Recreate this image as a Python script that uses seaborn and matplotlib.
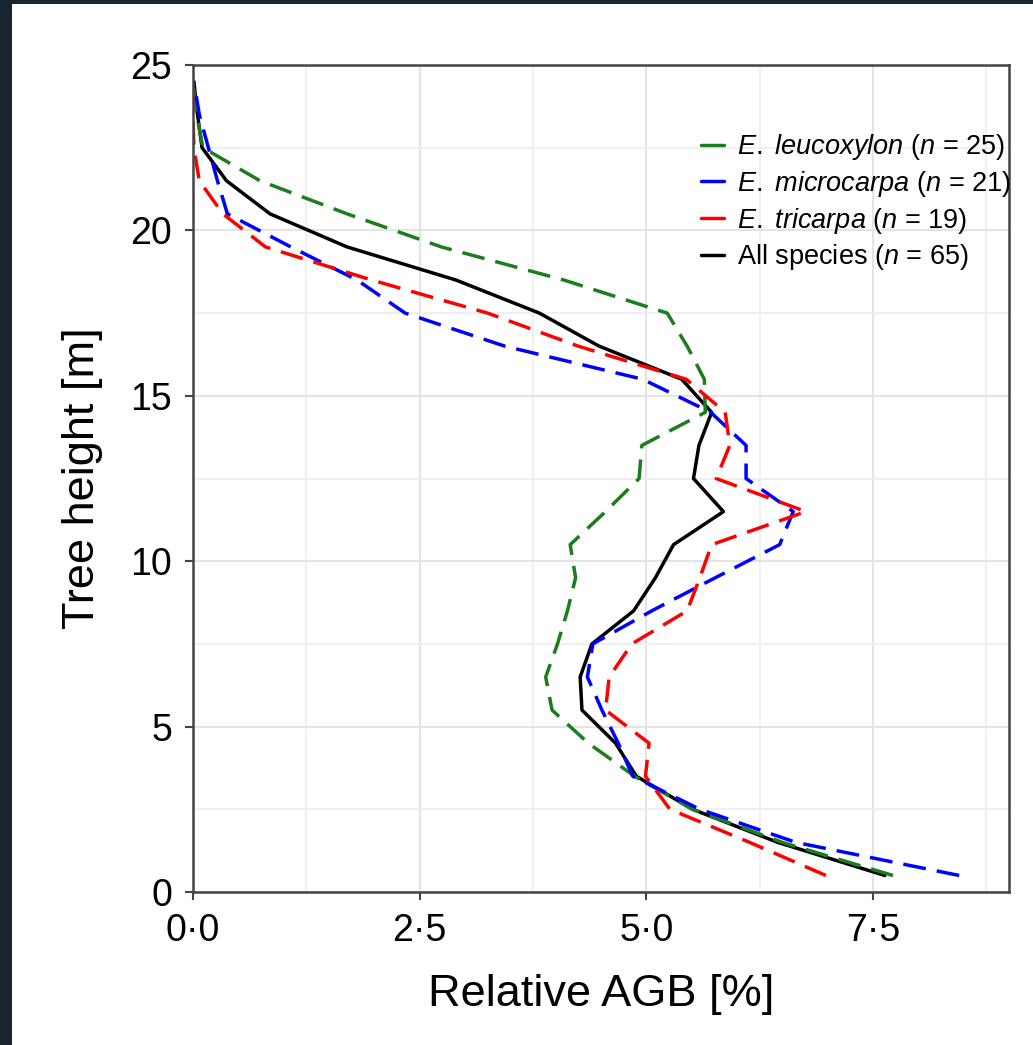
import pandas as pd
import matplotlib
matplotlib.use('Agg')
import matplotlib.pyplot as plt
from matplotlib.lines import Line2D
from matplotlib.patches import Rectangle
from matplotlib.ticker import MultipleLocator, FixedLocator
import seaborn as sns

# layer mid-heights (m)
heights = [0.5, 1.5, 2.5, 3.5, 4.5, 5.5, 6.5, 7.5, 8.5, 9.5, 10.5, 11.5, 12.5,
           13.5, 14.5, 15.5, 16.5, 17.5, 18.5, 19.5, 20.5, 21.5, 22.5, 23.5, 24.5]

# relative AGB (%) per layer
all_species = [7.63, 6.45, 5.51, 4.89, 4.66, 4.29, 4.27, 4.40, 4.86, 5.10, 5.30, 5.85, 5.52,
               5.58, 5.72, 5.39, 4.48, 3.82, 2.90, 1.70, 0.85, 0.37, 0.10, 0.05, 0.01]
leucoxylon = [7.72, 6.50, 5.51, 4.87, 4.36, 3.96, 3.89, 4.02, 4.13, 4.22, 4.16, 4.55, 4.92,
              4.95, 5.65, 5.64, 5.45, 5.23, 4.09, 2.74, 1.70, 0.74, 0.11, 0.04, 0.00]
microcarpa = [8.45, 6.65, 5.59, 4.85, 4.69, 4.51, 4.35, 4.41, 5.06, 5.76, 6.47, 6.62, 6.10,
              6.10, 5.71, 4.96, 3.44, 2.34, 1.81, 1.08, 0.38, 0.27, 0.17, 0.07, 0.01]
tricarpa = [6.98, 6.14, 5.26, 4.99, 5.03, 4.55, 4.59, 4.84, 5.45, 5.59, 5.72, 6.76, 5.77,
            5.92, 5.87, 5.44, 4.25, 3.25, 1.97, 0.80, 0.33, 0.07, 0.01, 0.00, 0.00]

species = ['All', 'leucoxylon', 'microcarpa', 'tricarpa']
legend_order = ['leucoxylon', 'microcarpa', 'tricarpa', 'All']
legend_labels = [r'$\mathit{E.}$ $\mathit{leucoxylon}$ ($\mathit{n}$ = 25)',
                 r'$\mathit{E.}$ $\mathit{microcarpa}$ ($\mathit{n}$ = 21)',
                 r'$\mathit{E.}$ $\mathit{tricarpa}$ ($\mathit{n}$ = 19)',
                 r'All species ($\mathit{n}$ = 65)']
colors = {'All': '#000000', 'leucoxylon': '#1c7d1c', 'microcarpa': '#0000ff', 'tricarpa': '#ff0000'}
dash_styles = {'All': '', 'leucoxylon': (6.6, 3.2), 'microcarpa': (6.6, 3.2), 'tricarpa': (6.6, 3.2)}

xticks = [0, 2.5, 5, 7.5]
xtick_labels = ['0·0', '2·5', '5·0', '7·5']
yticks = [0, 5, 10, 15, 20, 25]

values = {'All': all_species, 'leucoxylon': leucoxylon,
          'microcarpa': microcarpa, 'tricarpa': tricarpa}
rows = []
for sp in species:
    for h, v in zip(heights, values[sp]):
        rows.append({'species': sp, 'height': h, 'agb': v})
df = pd.DataFrame(rows)

sns.set_style('white')
plt.rcParams['font.family'] = ['Liberation Sans', 'DejaVu Sans']
plt.rcParams['mathtext.fontset'] = 'custom'
plt.rcParams['mathtext.rm'] = 'Liberation Sans'
plt.rcParams['mathtext.it'] = 'Liberation Sans:italic'
plt.rcParams['text.color'] = 'black'
plt.rcParams['axes.labelcolor'] = 'black'
plt.rcParams['xtick.color'] = 'black'
plt.rcParams['ytick.color'] = 'black'

fig = plt.figure(figsize=(10.33, 10.45), dpi=100)
fig.patch.set_facecolor('#17252e')
fig.patches.append(Rectangle((12 / 1033, 0), 1, 1 - 4 / 1045, transform=fig.transFigure,
                             facecolor='white', edgecolor='none', zorder=-10))

ax = fig.add_axes([0.1868, 0.1464, 0.790, 0.7914])
ax.set_facecolor('white')

sns.lineplot(data=df, x='agb', y='height', hue='species', style='species',
             hue_order=species, style_order=species, palette=colors, dashes=dash_styles,
             orient='y', estimator=None, linewidth=2.5, legend=False, ax=ax)

ax.set_xlim(0, 9)
ax.set_ylim(0, 25)
ax.xaxis.set_major_locator(FixedLocator(xticks))
ax.set_xticklabels(xtick_labels)
ax.yaxis.set_major_locator(FixedLocator(yticks))
ax.xaxis.set_minor_locator(MultipleLocator(1.25))
ax.yaxis.set_minor_locator(MultipleLocator(2.5))

ax.grid(which='major', color='#e4e4e4', linewidth=1.5)
ax.grid(which='minor', color='#eeeeee', linewidth=1.2)
ax.set_axisbelow(True)

ax.tick_params(which='major', bottom=True, left=True, direction='out', length=6, width=1.5,
               color='#444444', labelcolor='black', labelsize=27, pad=9)
ax.tick_params(which='minor', length=0)
for s in ax.spines.values():
    s.set_visible(True)
    s.set_color('#444444')
    s.set_linewidth(1.8)

ax.set_xlabel('Relative AGB [%]', fontsize=32.5, labelpad=18)
ax.set_ylabel('Tree height [m]', fontsize=32.5, labelpad=20)

handles = [Line2D([0], [0], color=colors[sp], lw=2.5) for sp in legend_order]
ax.legend(handles, legend_labels, loc='upper left', bbox_to_anchor=(0.622, 0.919),
          frameon=False, fontsize=19.5, handlelength=0.85, handletextpad=0.5,
          labelspacing=0.25, borderpad=0, borderaxespad=0)

fig.savefig('out.png', dpi=100, facecolor=fig.get_facecolor())
